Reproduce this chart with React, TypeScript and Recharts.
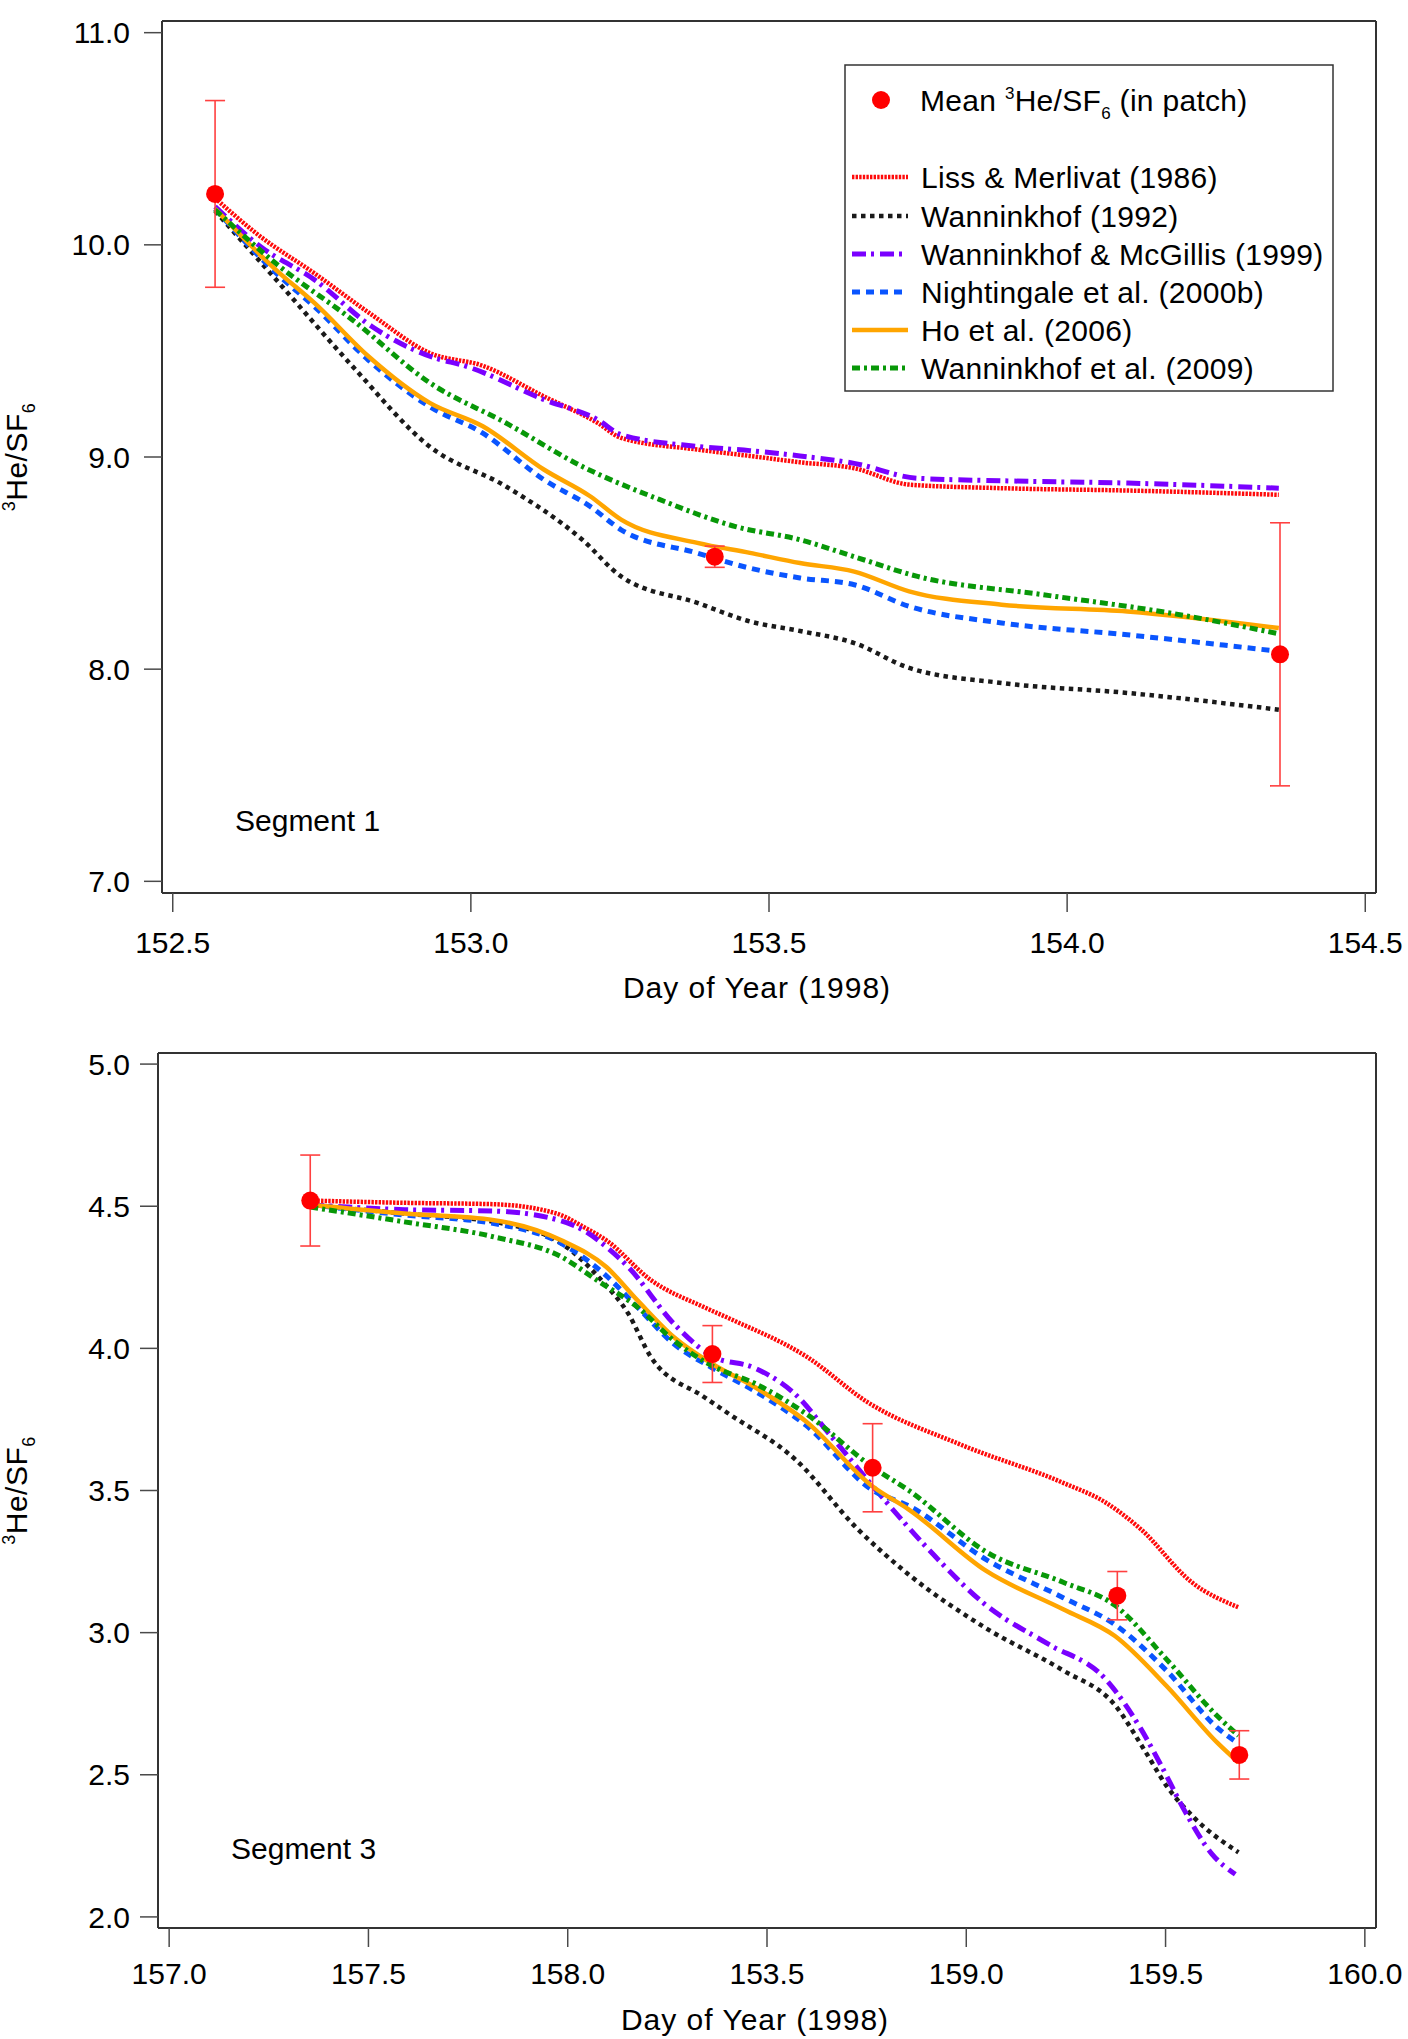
import React from "react";
import {
  ComposedChart,
  ErrorBar,
  Label,
  Line,
  Scatter,
  XAxis,
  YAxis,
} from "recharts";

// Helvetica-like face for all the text
const FONT = "'Liberation Sans', Arial, Helvetica, sans-serif";
const FRAME = "#333333";
const TICK = "#4a4a4a";
const FS = 30;

// ---------- Segment 1 (upper panel) ----------
const seg1XTicks = [152.5, 153.0, 153.5, 154.0, 154.5];
const seg1XLabels = ["152.5", "153.0", "153.5", "154.0", "154.5"];
const seg1YTicks = [7, 8, 9, 10, 11];
const seg1YLabels = ["7.0", "8.0", "9.0", "10.0", "11.0"];

const seg1Liss = [
  [152.571, 10.22], [152.642, 10.05], [152.738, 9.865], [152.834, 9.67],
  [152.931, 9.49], [153.02, 9.43], [153.123, 9.285], [153.213, 9.16],
  [153.252, 9.09], [153.38, 9.035], [153.468, 9.005], [153.552, 8.975],
  [153.643, 8.947], [153.735, 8.87], [153.89, 8.853], [154.101, 8.842],
  [154.355, 8.822],
];
const seg1W92 = [
  [152.571, 10.16], [152.674, 9.834], [152.802, 9.426], [152.931, 9.049],
  [153.059, 8.861], [153.187, 8.61], [153.252, 8.437], [153.38, 8.312],
  [153.468, 8.225], [153.552, 8.18], [153.643, 8.123], [153.735, 8.006],
  [153.89, 7.935], [154.101, 7.888], [154.355, 7.809],
];
const seg1WM99 = [
  [152.571, 10.18], [152.648, 9.99], [152.738, 9.835], [152.834, 9.615],
  [152.931, 9.475], [152.995, 9.425], [153.123, 9.27], [153.213, 9.175],
  [153.252, 9.105], [153.38, 9.05], [153.468, 9.03], [153.552, 9.005],
  [153.643, 8.97], [153.749, 8.9], [153.89, 8.888], [154.101, 8.877],
  [154.355, 8.853],
];
const seg1N00 = [
  [152.571, 10.17], [152.674, 9.865], [152.738, 9.708], [152.828, 9.457],
  [152.931, 9.237], [153.02, 9.112], [153.123, 8.892], [153.2, 8.767],
  [153.252, 8.657], [153.38, 8.547], [153.468, 8.476], [153.552, 8.43],
  [153.643, 8.398], [153.735, 8.296], [153.89, 8.218], [154.101, 8.162],
  [154.355, 8.084],
];
const seg1Ho06 = [
  [152.571, 10.17], [152.674, 9.88], [152.738, 9.725], [152.828, 9.475],
  [152.931, 9.255], [153.02, 9.145], [153.123, 8.94], [153.2, 8.815],
  [153.252, 8.705], [153.38, 8.595], [153.468, 8.548], [153.552, 8.5],
  [153.643, 8.46], [153.735, 8.367], [153.89, 8.304], [154.101, 8.272],
  [154.355, 8.194],
];
const seg1W09 = [
  [152.571, 10.165], [152.674, 9.91], [152.802, 9.645], [152.931, 9.35],
  [153.059, 9.16], [153.187, 8.955], [153.316, 8.8], [153.444, 8.672],
  [153.552, 8.61], [153.643, 8.53], [153.749, 8.437], [153.96, 8.351],
  [154.172, 8.265], [154.355, 8.167],
];
const seg1PatchDays = [152.571, 153.409, 154.357];
const seg1PatchMean = [10.24, 8.53, 8.07];
const seg1PatchErr = [0.44, 0.05, 0.62];

// ---------- Segment 3 (lower panel) ----------
const seg3XTicks = [157.0, 157.5, 158.0, 158.5, 159.0, 159.5, 160.0];
// the fourth label really reads "153.5" in the source figure
const seg3XLabels = ["157.0", "157.5", "158.0", "153.5", "159.0", "159.5", "160.0"];
const seg3YTicks = [2.0, 2.5, 3.0, 3.5, 4.0, 4.5, 5.0];
const seg3YLabels = ["2.0", "2.5", "3.0", "3.5", "4.0", "4.5", "5.0"];

const seg3Liss = [
  [157.354, 4.52], [157.59, 4.512], [157.815, 4.507], [157.973, 4.474],
  [158.04, 4.427], [158.097, 4.38], [158.209, 4.24], [158.342, 4.145],
  [158.404, 4.106], [158.598, 3.972], [158.753, 3.81], [158.985, 3.662],
  [159.243, 3.527], [159.347, 3.46], [159.437, 3.365], [159.566, 3.177],
  [159.683, 3.089],
];
const seg3W92 = [
  [157.354, 4.505], [157.59, 4.474], [157.815, 4.445], [157.984, 4.369],
  [158.085, 4.239], [158.152, 4.122], [158.209, 3.969], [158.342, 3.829],
  [158.404, 3.77], [158.572, 3.608], [158.727, 3.365], [158.856, 3.204],
  [159.05, 3.015], [159.243, 2.867], [159.373, 2.745], [159.45, 2.58],
  [159.503, 2.46], [159.571, 2.35], [159.683, 2.227],
];
const seg3WM99 = [
  [157.354, 4.505], [157.59, 4.488], [157.815, 4.483], [157.961, 4.457],
  [158.04, 4.415], [158.097, 4.357], [158.152, 4.286], [158.266, 4.087],
  [158.363, 3.972], [158.469, 3.931], [158.572, 3.837], [158.662, 3.689],
  [158.791, 3.473], [158.92, 3.271], [159.05, 3.096], [159.204, 2.961],
  [159.347, 2.84], [159.437, 2.664], [159.49, 2.53], [159.548, 2.373],
  [159.616, 2.222], [159.675, 2.15],
];
const seg3N00 = [
  [157.354, 4.505], [157.59, 4.469], [157.815, 4.439], [157.984, 4.369],
  [158.097, 4.255], [158.175, 4.145], [158.266, 4.016], [158.363, 3.931],
  [158.469, 3.85], [158.598, 3.729], [158.766, 3.5], [158.856, 3.446],
  [159.05, 3.257], [159.243, 3.123], [159.373, 3.028], [159.502, 2.867],
  [159.631, 2.664], [159.683, 2.61],
];
const seg3Ho06 = [
  [157.354, 4.505], [157.59, 4.474], [157.815, 4.451], [157.984, 4.38],
  [158.097, 4.286], [158.175, 4.169], [158.266, 4.04], [158.363, 3.945],
  [158.469, 3.864], [158.598, 3.743], [158.766, 3.513], [158.856, 3.433],
  [159.05, 3.217], [159.243, 3.082], [159.373, 2.988], [159.502, 2.813],
  [159.631, 2.611], [159.683, 2.543],
];
const seg3W09 = [
  [157.354, 4.497], [157.59, 4.445], [157.815, 4.392], [157.984, 4.322],
  [158.074, 4.239], [158.175, 4.145], [158.266, 4.028], [158.363, 3.938],
  [158.469, 3.877], [158.598, 3.77], [158.766, 3.581], [158.856, 3.5],
  [159.05, 3.284], [159.243, 3.177], [159.373, 3.096], [159.502, 2.907],
  [159.631, 2.705], [159.683, 2.638],
];
const seg3PatchDays = [157.354, 158.363, 158.765, 159.379, 159.685];
const seg3PatchMean = [4.52, 3.98, 3.58, 3.13, 2.57];
const seg3PatchErr = [0.16, 0.1, 0.155, 0.085, 0.085];

// series styling, in legend order
const SERIES = [
  { id: "liss", name: "Liss & Merlivat (1986)", color: "#ff0a0a", dash: "2.4 1.2", width: 4.5 },
  { id: "w92", name: "Wanninkhof (1992)", color: "#1a1a1a", dash: "4.5 4.5", width: 4.5 },
  { id: "wm99", name: "Wanninkhof & McGillis (1999)", color: "#7a00ff", dash: "14 5 3 6", width: 5 },
  { id: "n00", name: "Nightingale et al. (2000b)", color: "#0a55ff", dash: "8 6", width: 5 },
  { id: "ho06", name: "Ho et al. (2006)", color: "#ffa500", dash: undefined, width: 4.5 },
  { id: "w09", name: "Wanninkhof et al. (2009)", color: "#089808", dash: "8 4 3 4", width: 5 },
];

const SEG1_LINES: Record<string, number[][]> = {
  liss: seg1Liss, w92: seg1W92, wm99: seg1WM99, n00: seg1N00, ho06: seg1Ho06, w09: seg1W09,
};
const SEG3_LINES: Record<string, number[][]> = {
  liss: seg3Liss, w92: seg3W92, wm99: seg3WM99, n00: seg3N00, ho06: seg3Ho06, w09: seg3W09,
};

const toPts = (arr: number[][]) => arr.map(([x, y]) => ({ x, y }));

const pickLabel = (ticks: number[], labels: string[]) => (v: number) => {
  const i = ticks.findIndex((t) => Math.abs(t - v) < 1e-6);
  return i >= 0 ? labels[i] : "";
};

function RedDot(props: any) {
  if (props.cx == null || props.cy == null) return null;
  return <circle cx={props.cx} cy={props.cy} r={9} fill="#ff0000" />;
}

const makeXTitle = (drop: number) =>
  function XTitle(props: any) {
    const vb = props.viewBox || {};
    return (
      <text
        x={vb.x + vb.width / 2 - 12}
        y={vb.y + drop}
        textAnchor="middle"
        fontSize={FS}
        fontFamily={FONT}
        letterSpacing={1}
        fill="#000"
      >
        Day of Year (1998)
      </text>
    );
  };

function YTitle(props: any) {
  const vb = props.viewBox || {};
  const cy = vb.y + vb.height / 2;
  return (
    <text
      transform={`translate(27,${cy}) rotate(-90)`}
      textAnchor="middle"
      fontSize={FS}
      fontFamily={FONT}
      letterSpacing={0.5}
      fill="#000"
    >
      <tspan fontSize={18} dy={-12}>3</tspan>
      <tspan dy={12}>He/SF</tspan>
      <tspan fontSize={18} dy={8}>6</tspan>
    </text>
  );
}

interface PanelProps {
  height: number;
  margin: { top: number; right: number; bottom: number; left: number };
  xDomain: [number, number];
  xTicks: number[];
  xLabels: string[];
  yDomain: [number, number];
  yTicks: number[];
  yLabels: string[];
  yAxisWidth: number;
  yTickMargin: number;
  xTickMargin: number;
  titleDrop: number;
  topAxisHeight: number;
  lines: Record<string, number[][]>;
  patchDays: number[];
  patchMean: number[];
  patchErr: number[];
}

function Panel(p: PanelProps) {
  const patch = p.patchDays.map((d, i) => ({ x: d, y: p.patchMean[i], err: p.patchErr[i] }));
  const frame = { stroke: FRAME, strokeWidth: 2 };
  const tickLine = { stroke: TICK, strokeWidth: 1.5 };
  const tickText = { fontSize: FS, fill: "#000", fontFamily: FONT };
  return (
    <ComposedChart width={1408} height={p.height} margin={p.margin}>
      <XAxis
        dataKey="x"
        type="number"
        domain={p.xDomain}
        ticks={p.xTicks}
        interval={0}
        allowDataOverflow
        tickFormatter={pickLabel(p.xTicks, p.xLabels)}
        tickSize={19}
        tickMargin={p.xTickMargin}
        height={110}
        axisLine={frame}
        tickLine={tickLine}
        tick={tickText}
      >
        <Label content={makeXTitle(p.titleDrop)} />
      </XAxis>
      <XAxis
        xAxisId="top"
        orientation="top"
        dataKey="x"
        type="number"
        domain={p.xDomain}
        ticks={p.xTicks}
        interval={0}
        allowDataOverflow
        tick={false}
        tickSize={20}
        height={p.topAxisHeight}
        axisLine={frame}
        tickLine={tickLine}
      />
      <YAxis
        type="number"
        domain={p.yDomain}
        ticks={p.yTicks}
        interval={0}
        allowDataOverflow
        tickFormatter={pickLabel(p.yTicks, p.yLabels)}
        width={p.yAxisWidth}
        tickSize={18}
        tickMargin={p.yTickMargin}
        axisLine={frame}
        tickLine={tickLine}
        tick={tickText}
      >
        <Label content={YTitle} />
      </YAxis>
      <YAxis
        yAxisId="right"
        orientation="right"
        type="number"
        domain={p.yDomain}
        ticks={p.yTicks}
        interval={0}
        allowDataOverflow
        tick={false}
        tickSize={20}
        width={20}
        axisLine={frame}
        tickLine={tickLine}
      />
      {SERIES.map((s) => (
        <Line
          key={s.id}
          data={toPts(p.lines[s.id])}
          dataKey="y"
          type="monotone"
          stroke={s.color}
          strokeWidth={s.width}
          strokeDasharray={s.dash}
          dot={false}
          activeDot={false}
          isAnimationActive={false}
        />
      ))}
      <Scatter data={patch} dataKey="y" shape={RedDot} isAnimationActive={false}>
        <ErrorBar dataKey="err" direction="y" width={10} stroke="#ff4040" strokeWidth={1.6} />
      </Scatter>
    </ComposedChart>
  );
}

function Overlay() {
  const rowsY = [177, 216, 254, 292, 330, 368];
  return (
    <svg
      width={1408}
      height={2039}
      style={{ position: "absolute", left: 0, top: 0, pointerEvents: "none" }}
      fontFamily={FONT}
    >
      <rect x={845} y={65} width={488} height={326} fill="#fff" stroke={FRAME} strokeWidth={1.5} />
      <circle cx={881} cy={100} r={9} fill="#ff0000" />
      <text x={920} y={111} fontSize={FS} letterSpacing={0.3} fill="#000">
        <tspan>Mean </tspan>
        <tspan fontSize={17} dy={-12}>3</tspan>
        <tspan dy={12}>He/SF</tspan>
        <tspan fontSize={17} dy={8}>6</tspan>
        <tspan dy={-8}> (in patch)</tspan>
      </text>
      {SERIES.map((s, i) => (
        <g key={s.id}>
          <line
            x1={852}
            x2={908}
            y1={rowsY[i]}
            y2={rowsY[i]}
            stroke={s.color}
            strokeWidth={s.width}
            strokeDasharray={s.dash}
          />
          <text x={921} y={rowsY[i] + 11} fontSize={FS} letterSpacing={0.3} fill="#000">
            {s.name}
          </text>
        </g>
      ))}
      <text x={235} y={831} fontSize={FS} fill="#000">Segment 1</text>
      <text x={231} y={1859} fontSize={FS} fill="#000">Segment 3</text>
    </svg>
  );
}

export default function App() {
  return (
    <div style={{ position: "absolute", left: 0, top: 0, width: 1408, height: 2039, background: "#fff" }}>
      <div style={{ position: "absolute", left: 0, top: 0 }}>
        <Panel
          height={1030}
          margin={{ top: 0, right: 12, bottom: 27, left: 0 }}
          xDomain={[152.482, 154.518]}
          xTicks={seg1XTicks}
          xLabels={seg1XLabels}
          yDomain={[6.945, 11.055]}
          yTicks={seg1YTicks}
          yLabels={seg1YLabels}
          yAxisWidth={162}
          yTickMargin={14}
          xTickMargin={20}
          titleDrop={105}
          topAxisHeight={21}
          lines={SEG1_LINES}
          patchDays={seg1PatchDays}
          patchMean={seg1PatchMean}
          patchErr={seg1PatchErr}
        />
      </div>
      <div style={{ position: "absolute", left: 0, top: 1030 }}>
        <Panel
          height={1009}
          margin={{ top: 0, right: 12, bottom: 1, left: 0 }}
          xDomain={[156.972, 160.028]}
          xTicks={seg3XTicks}
          xLabels={seg3XLabels}
          yDomain={[1.961, 5.039]}
          yTicks={seg3YTicks}
          yLabels={seg3YLabels}
          yAxisWidth={158}
          yTickMargin={10}
          xTickMargin={16}
          titleDrop={102}
          topAxisHeight={23}
          lines={SEG3_LINES}
          patchDays={seg3PatchDays}
          patchMean={seg3PatchMean}
          patchErr={seg3PatchErr}
        />
      </div>
      <Overlay />
    </div>
  );
}
